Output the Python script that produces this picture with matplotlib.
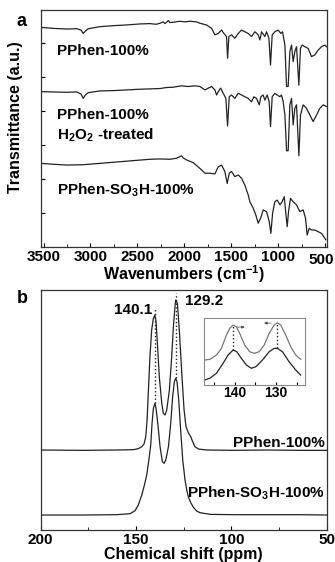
import numpy as np
import matplotlib
matplotlib.use('Agg')
import matplotlib.pyplot as plt
from matplotlib.ticker import MultipleLocator

plt.rcParams['font.family'] = ['Liberation Sans', 'DejaVu Sans']
plt.rcParams['font.weight'] = 'bold'
plt.rcParams['mathtext.default'] = 'regular'

# ---- panel a: FTIR (wavenumber, transmittance a.u.)
ir_top_wn = [3530, 3396, 3254, 3147, 3101, 3077, 3055, 3023, 2899, 2757, 2616, 2474, 2367,
             2300, 2261, 2225, 2208, 2190, 2172, 2155, 2119, 2048, 1995, 1942, 1871, 1835,
             1765, 1711, 1676, 1640, 1605, 1580, 1552, 1541, 1527, 1499, 1463, 1428, 1392,
             1357, 1321, 1286, 1250, 1215, 1197, 1179, 1144, 1126, 1101, 1084, 1066, 1038,
             1002, 974, 956, 931, 913, 896, 878, 860, 843, 825, 807, 782, 765, 747, 718,
             683, 648, 612, 577, 541, 506, 488]
ir_top_t = [6.46, 6.43, 6.41, 6.42, 6.38, 6.28, 6.35, 6.42, 6.48, 6.51, 6.53, 6.56, 6.57,
            6.55, 6.58, 6.62, 6.57, 6.61, 6.66, 6.60, 6.61, 6.64, 6.62, 6.64, 6.62, 6.58,
            6.53, 6.43, 6.24, 6.28, 6.38, 6.28, 6.19, 5.55, 6.19, 6.24, 6.14, 6.28, 6.38,
            6.33, 6.28, 6.19, 6.33, 6.24, 6.09, 6.33, 6.19, 6.33, 6.14, 5.35, 6.24, 6.33,
            6.38, 6.28, 6.33, 5.94, 4.72, 4.72, 5.75, 5.94, 5.45, 5.75, 5.89, 4.76, 5.84,
            5.94, 5.89, 5.84, 5.60, 5.65, 5.79, 5.89, 5.94, 5.89]

ir_mid_wn = [3530, 3396, 3254, 3147, 3101, 3077, 3055, 3023, 2899, 2757, 2616, 2474, 2367,
             2261, 2190, 2119, 2030, 1960, 1889, 1835, 1782, 1747, 1711, 1676, 1658, 1640,
             1615, 1587, 1559, 1541, 1523, 1499, 1463, 1428, 1392, 1357, 1321, 1286, 1261,
             1233, 1204, 1186, 1162, 1144, 1119, 1098, 1084, 1066, 1038, 1013, 984, 967,
             949, 931, 913, 896, 878, 860, 843, 825, 807, 782, 765, 736, 701, 665, 630,
             594, 559, 523, 488]
ir_mid_t = [4.57, 4.56, 4.55, 4.56, 4.50, 4.37, 4.47, 4.54, 4.59, 4.60, 4.62, 4.64, 4.65,
            4.66, 4.69, 4.70, 4.74, 4.72, 4.74, 4.72, 4.62, 4.67, 4.72, 4.62, 4.47, 4.57,
            4.67, 4.52, 4.37, 3.56, 4.42, 4.47, 4.37, 4.52, 4.47, 4.42, 4.37, 4.27, 4.42,
            4.37, 4.18, 4.42, 4.47, 4.32, 4.47, 4.27, 3.54, 4.42, 4.52, 4.47, 4.42, 4.47,
            4.27, 3.88, 2.83, 2.83, 4.18, 4.37, 3.59, 4.08, 4.18, 2.68, 3.88, 4.18, 4.08,
            3.88, 3.69, 3.88, 4.08, 4.18, 4.13]

ir_bot_wn = [3530, 3431, 3254, 3077, 2899, 2722, 2545, 2367, 2261, 2155, 2084, 2048, 2030,
             2013, 1977, 1906, 1835, 1782, 1729, 1676, 1640, 1605, 1570, 1545, 1523, 1499,
             1463, 1428, 1392, 1357, 1321, 1304, 1268, 1240, 1215, 1190, 1162, 1126, 1098,
             1080, 1062, 1038, 1013, 984, 960, 938, 921, 906, 892, 871, 843, 807, 772, 736,
             711, 694, 672, 648, 612, 577, 541, 516, 495]
ir_bot_t = [2.46, 2.44, 2.41, 2.42, 2.46, 2.50, 2.54, 2.58, 2.59, 2.58, 2.61, 2.66, 2.68,
            2.62, 2.56, 2.48, 2.31, 2.17, 2.17, 2.15, 2.36, 2.41, 2.22, 1.87, 2.17, 2.22,
            2.07, 2.12, 2.02, 1.82, 1.53, 1.33, 1.14, 0.94, 0.70, 0.84, 1.09, 1.04, 0.75,
            0.40, 0.99, 1.33, 1.38, 1.24, 1.33, 1.48, 0.99, 0.60, 1.04, 1.43, 1.33, 1.24,
            1.04, 1.09, 0.84, 0.35, 0.55, 0.50, 0.50, 0.45, 0.40, 0.30, 0.21]
ir_ticks = [3500, 3000, 2500, 2000, 1500, 1000, 500]

# ---- panel b: 13C NMR (ppm, intensity a.u.)
nmr_top_ppm = [200.0, 177.6, 160.1, 151.4, 148.8, 147.0, 145.8, 144.9, 144.2, 143.5, 142.7,
               141.8, 140.9, 140.1, 139.5, 138.8, 137.8, 136.5, 135.7, 134.8, 133.9, 132.5,
               131.3, 130.4, 129.5, 129.2, 128.3, 127.3, 126.0, 124.8, 123.8, 122.6, 121.3,
               120.3, 119.1, 117.3, 112.9, 98.9, 81.5, 64.0, 50.0]
nmr_top_i = [2.40, 2.39, 2.40, 2.41, 2.44, 2.50, 2.58, 2.80, 3.30, 4.20, 5.20, 6.00, 6.35,
             6.45, 6.25, 5.60, 4.60, 3.80, 3.50, 3.45, 3.60, 4.20, 5.20, 6.10, 6.75, 6.90,
             6.80, 6.00, 4.70, 3.60, 3.10, 2.92, 2.80, 2.65, 2.50, 2.43, 2.40, 2.39, 2.40,
             2.39, 2.39]
nmr_bot_ppm = [200.0, 177.6, 160.1, 153.1, 150.5, 148.8, 147.0, 145.6, 144.4, 143.4, 142.3,
               141.6, 140.9, 140.1, 139.5, 138.6, 137.4, 136.2, 135.3, 134.4, 133.0, 131.8,
               130.8, 129.9, 129.2, 128.5, 127.6, 126.6, 125.5, 124.3, 123.4, 122.6, 121.3,
               119.9, 118.2, 116.4, 111.2, 98.9, 81.5, 64.0, 50.0]
nmr_bot_i = [0.45, 0.45, 0.46, 0.49, 0.58, 0.75, 1.05, 1.35, 1.65, 2.05, 2.55, 3.20, 3.65,
             3.80, 3.65, 3.20, 2.50, 2.05, 2.00, 2.10, 2.50, 3.20, 4.00, 4.45, 4.55, 4.45,
             3.90, 3.00, 2.10, 1.50, 1.20, 1.00, 0.82, 0.68, 0.57, 0.52, 0.47, 0.46, 0.46,
             0.46, 0.45]

# inset (zoom of the two peaks)
ins_top_ppm = [147.2, 146.0, 144.4, 143.2, 142.0, 141.2, 140.4, 139.6, 138.8, 137.6, 136.4,
               135.3, 134.1, 132.9, 131.7, 130.5, 129.7, 128.9, 127.7, 126.5, 125.3, 124.1]
ins_top_i = [25.0, 25.7, 30.0, 36.7, 50.0, 56.7, 60.0, 58.3, 51.7, 40.0, 33.3, 31.7, 33.3,
             40.0, 51.7, 60.0, 62.3, 60.0, 50.0, 38.3, 30.0, 25.7]
ins_bot_ppm = [147.2, 146.0, 144.4, 142.8, 141.6, 140.4, 139.5, 138.4, 137.2, 136.0, 134.9,
               133.3, 131.7, 130.5, 129.7, 128.5, 126.9, 125.3, 124.1]
ins_bot_i = [5.0, 6.7, 11.7, 21.7, 30.0, 35.0, 33.3, 26.7, 20.0, 16.7, 18.3, 25.0, 33.3,
             36.7, 36.7, 33.3, 23.3, 15.0, 10.0]

fs = 11
fig = plt.figure(figsize=(3.35, 5.62), dpi=100)

# ---------------- panel a
ax1 = fig.add_axes([0.1215, 0.5605, 0.8537, 0.4217])
ax1.plot(ir_top_wn, ir_top_t, '-', color='#222222', lw=0.9)
ax1.plot(ir_mid_wn, ir_mid_t, '-', color='#222222', lw=0.9)
ax1.plot(ir_bot_wn, ir_bot_t, '-', color='#222222', lw=0.9)
ax1.set_xlim(3530, 486)
ax1.set_ylim(0, 6.97)
ax1.set_xticks(ir_ticks)
# last label is drawn by hand a bit to the left so it stays inside the figure
ax1.set_xticklabels([str(t) for t in ir_ticks[:-1]] + [''])
ax1.annotate(str(ir_ticks[-1]), xy=(ir_ticks[-1], 0), xycoords=('data', 'axes fraction'),
             xytext=(-3, -4.5), textcoords='offset points', ha='center', va='top',
             fontsize=fs, fontweight='bold')
ax1.xaxis.set_minor_locator(MultipleLocator(250))
ax1.yaxis.set_major_locator(MultipleLocator(1))
ax1.set_yticklabels([])
ax1.tick_params(axis='both', which='both', direction='in', top=False, right=False)
ax1.tick_params(axis='x', which='major', length=3, pad=2, labelsize=fs)
ax1.tick_params(axis='x', which='minor', length=2)
ax1.tick_params(axis='y', length=3)
ax1.set_xlabel('Wavenumbers (cm$^{-1}$)', fontsize=11.5, fontweight='bold', labelpad=0)
ax1.set_ylabel('Transmittance (a.u.)', fontsize=11.5, fontweight='bold')
ax1.yaxis.set_label_coords(-0.062, 0.55)
ax1.text(3356, 5.75, 'PPhen-100%', fontsize=fs, fontweight='bold', va='center')
ax1.text(3356, 3.88, 'PPhen-100%', fontsize=fs, fontweight='bold', va='center')
ax1.text(3360, 3.29, 'H$_2$O$_2$ -treated', fontsize=fs, fontweight='bold', va='center')
ax1.text(3356, 1.68, 'PPhen-SO$_3$H-100%', fontsize=fs, fontweight='bold', va='center')
for s in ax1.spines.values():
    s.set_color('#333333')
    s.set_linewidth(0.9)

# ---------------- panel b
ax2 = fig.add_axes([0.1215, 0.0569, 0.8537, 0.4271])
ax2.plot(nmr_top_ppm, nmr_top_i, '-', color='#222222', lw=0.9)
ax2.plot(nmr_bot_ppm, nmr_bot_i, '-', color='#222222', lw=0.9)
ax2.plot([140.1, 140.1], [3.80, 6.65], ':', color='#222222', lw=1)
ax2.plot([129.2, 129.2], [4.55, 7.10], ':', color='#222222', lw=1)
ax2.set_xlim(200, 50)
ax2.set_ylim(0, 7.2)
ax2.xaxis.set_major_locator(MultipleLocator(50))
ax2.xaxis.set_minor_locator(MultipleLocator(25))
ax2.set_yticks([])
ax2.tick_params(axis='x', which='both', direction='in', top=False)
ax2.tick_params(axis='x', which='major', length=3, pad=2, labelsize=fs)
ax2.tick_params(axis='x', which='minor', length=2)
ax2.set_xlabel('Chemical shift (ppm)', fontsize=11.5, fontweight='bold', labelpad=0)
ax2.text(141.3, 6.6, '140.1', fontsize=fs, fontweight='bold', ha='right', va='center')
ax2.text(124.3, 6.88, '129.2', fontsize=fs, fontweight='bold', ha='left', va='center')
ax2.text(51, 2.6, 'PPhen-100%', fontsize=fs, fontweight='bold', ha='right', va='center')
ax2.text(51, 1.1, 'PPhen-SO$_3$H-100%', fontsize=fs, fontweight='bold', ha='right', va='center')
for s in ax2.spines.values():
    s.set_color('#333333')
    s.set_linewidth(0.9)

# inset
axi = fig.add_axes([0.609, 0.315, 0.301, 0.119])
axi.plot(ins_top_ppm, ins_top_i, '-', color='#777777', lw=0.9)
axi.plot(ins_bot_ppm, ins_bot_i, '-', color='#222222', lw=0.9)
axi.plot([140.4, 140.4], [35, 60], ':', color='#222222', lw=1)
axi.plot([129.7, 129.7], [36.7, 62.3], ':', color='#222222', lw=1)
axi.annotate('', xy=(137.6, 58), xytext=(139.4, 58),
             arrowprops=dict(arrowstyle='-|>', color='#444444', lw=0.5,
                             mutation_scale=4, shrinkA=0, shrinkB=0))
axi.annotate('', xy=(132.9, 62), xytext=(131.2, 62),
             arrowprops=dict(arrowstyle='-|>', color='#444444', lw=0.5,
                             mutation_scale=4, shrinkA=0, shrinkB=0))
axi.set_xlim(147.4, 123.1)
axi.set_ylim(0, 67)
axi.set_xticks([145, 140, 135, 130, 125])
axi.set_xticklabels(['', '140', '', '130', ''])
axi.set_yticks([])
axi.tick_params(axis='x', direction='in', length=2, pad=1, labelsize=10)
for s in axi.spines.values():
    s.set_color('#888888')
    s.set_linewidth(0.8)

fig.text(0.063, 0.962, 'a', fontsize=13, fontweight='bold', ha='center', va='center')
fig.text(0.066, 0.468, 'b', fontsize=13, fontweight='bold', ha='center', va='center')

fig.savefig('out.png', dpi=100)
